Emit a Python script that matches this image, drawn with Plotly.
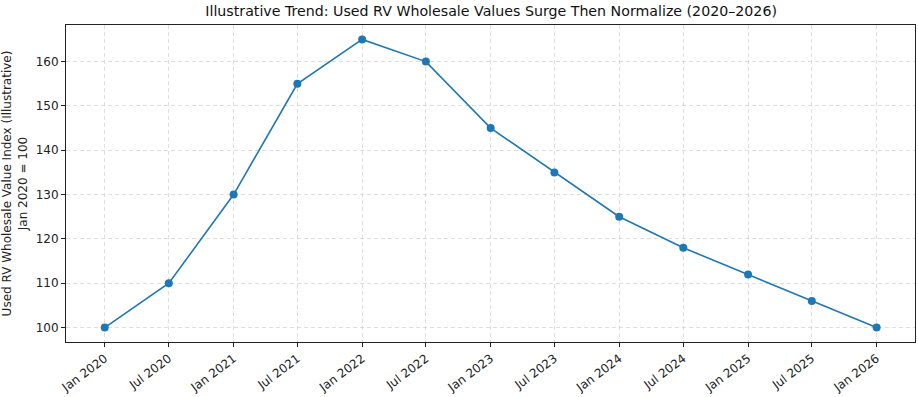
import plotly.graph_objects as go

dates = ["2020-01-01", "2020-07-01", "2021-01-01", "2021-07-01", "2022-01-01", "2022-07-01",
         "2023-01-01", "2023-07-01", "2024-01-01", "2024-07-01", "2025-01-01", "2025-07-01", "2026-01-01"]
values = [100, 110, 130, 155, 165, 160, 145, 135, 125, 118, 112, 106, 100]
tick_labels = ["Jan 2020", "Jul 2020", "Jan 2021", "Jul 2021", "Jan 2022", "Jul 2022", "Jan 2023",
               "Jul 2023", "Jan 2024", "Jul 2024", "Jan 2025", "Jul 2025", "Jan 2026"]
y_ticks = [100, 110, 120, 130, 140, 150, 160]

title = "Illustrative Trend: Used RV Wholesale Values Surge Then Normalize (2020–2026)"
y_title = "Used RV Wholesale Value Index (Illustrative)<br>Jan 2020 = 100"

fig = go.Figure()
fig.add_trace(go.Scatter(
    x=dates, y=values, mode="lines+markers",
    line=dict(color="#1f77b4", width=1.6),
    marker=dict(color="#1f77b4", size=8),
    showlegend=False,
))

font = "DejaVu Sans, sans-serif"
grid = "rgba(190,190,190,0.5)"
fig.update_layout(
    width=918, height=397,
    margin=dict(l=66, r=3, t=25, b=55),
    paper_bgcolor="white", plot_bgcolor="white",
    font=dict(family=font, size=12, color="#222"),
    title=dict(text=title, x=0.535, xanchor="center", y=0.985, yanchor="top",
               font=dict(size=14.2, color="#111")),
)
fig.update_xaxes(
    type="date", range=["2019-09-13", "2026-04-20"], automargin=False,
    tickvals=dates, ticktext=tick_labels, tickangle=-37,
    showgrid=True, gridcolor=grid, griddash="4px,3px", gridwidth=1,
    showline=True, linecolor="#222", linewidth=1, mirror=True,
    ticks="outside", ticklen=4, tickcolor="#222", zeroline=False,
)
fig.update_yaxes(
    range=[96.75, 168.25], tickvals=y_ticks, automargin=False,
    showgrid=True, gridcolor=grid, griddash="4px,3px", gridwidth=1,
    showline=True, linecolor="#222", linewidth=1, mirror=True,
    ticks="outside", ticklen=4, tickcolor="#222", zeroline=False,
    title=dict(text=y_title, font=dict(size=12), standoff=6),
)
fig.write_html("out.html", config={"displayModeBar": False},
               post_script="document.body.style.margin='0';document.body.style.overflow='hidden';")
